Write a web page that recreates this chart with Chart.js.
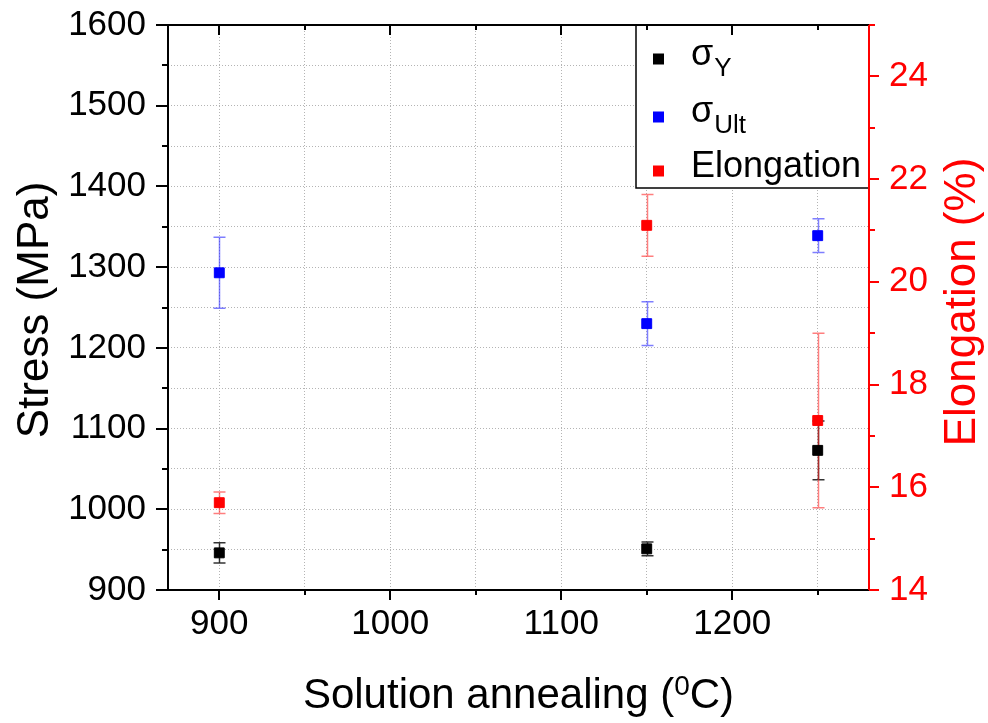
<!DOCTYPE html>
<html>
<head>
<meta charset="utf-8">
<script src="https://cdn.jsdelivr.net/npm/chart.js@4"></script>
<style>
  html, body { margin: 0; padding: 0; background: #fff; }
  #wrap { width: 988px; height: 723px; }
</style>
</head>
<body>
<div id="wrap"><canvas id="c" width="988" height="723"></canvas></div>
<script>
// Solution annealing temperature (°C)
const temperatures = [900, 1150, 1250];

// Yield strength (MPa) and its scatter
const yieldStress = [946, 951, 1073];
const yieldStressErr = [12.5, 8.5, 36.5];

// Ultimate tensile strength (MPa) and its scatter
const ultimateStress = [1293, 1230, 1339];
const ultimateStressErr = [44, 27, 21];

// Elongation at fracture (%) and its scatter
const elongation = [15.7, 21.1, 17.3];
const elongationErr = [0.21, 0.6, 1.7];

// Axis ticks: every entry gets a tick mark, labelled ones are listed separately
const tempTicks = [900, 950, 1000, 1050, 1100, 1150, 1200, 1250];
const tempLabels = [900, 1000, 1100, 1200];
const stressTicks = [900, 950, 1000, 1050, 1100, 1150, 1200, 1250, 1300, 1350, 1400, 1450, 1500, 1550, 1600];
const stressLabels = [900, 1000, 1100, 1200, 1300, 1400, 1500, 1600];
const elongTicks = [14, 15, 16, 17, 18, 19, 20, 21, 22, 23, 24, 25];
const elongLabels = [14, 16, 18, 20, 22, 24];

const FONT = '"Liberation Sans", Arial, Helvetica, sans-serif';
const RED = '#ff0000';
const BLUE = '#0000ff';
const BLACK = '#000000';
const GRID = '#b4b4b4';

const toPoints = (ys) => temperatures.map((t, i) => ({ x: t, y: ys[i] }));

// Error bars, axis frame with major/minor tick marks, titles and legend
const decorations = {
  id: 'decorations',
  beforeDatasetsDraw(chart) {
    const { ctx, chartArea: a } = chart;
    const xs = chart.scales.x;
    ctx.save();
    ctx.beginPath();
    ctx.rect(a.left, a.top, a.right - a.left, a.bottom - a.top);
    ctx.clip();
    chart.data.datasets.forEach((ds) => {
      const ys = chart.scales[ds.yAxisID];
      ctx.strokeStyle = ds.errorColor;
      ctx.lineWidth = 1.5;
      ds.data.forEach((p, i) => {
        const e = ds.errors[i];
        const x = Math.round(xs.getPixelForValue(p.x)) + 0.5;
        const yt = ys.getPixelForValue(p.y + e);
        const yb = ys.getPixelForValue(p.y - e);
        ctx.beginPath();
        ctx.moveTo(x, yt); ctx.lineTo(x, yb);
        ctx.moveTo(x - 6, yt); ctx.lineTo(x + 6, yt);
        ctx.moveTo(x - 6, yb); ctx.lineTo(x + 6, yb);
        ctx.stroke();
      });
    });
    ctx.restore();
  },
  afterDraw(chart) {
    const { ctx, chartArea: a } = chart;
    const xs = chart.scales.x, ys = chart.scales.y, es = chart.scales.y1;
    ctx.save();

    // legend box
    const lx0 = 636, ly0 = a.top, lx1 = a.right, ly1 = 188;
    ctx.fillStyle = '#fff';
    ctx.fillRect(lx0, ly0, lx1 - lx0, ly1 - ly0);
    ctx.strokeStyle = BLACK;
    ctx.lineWidth = 1.5;
    ctx.strokeRect(lx0, ly0, lx1 - lx0, ly1 - ly0);
    const entries = [
      { color: BLACK, main: 'σ', sub: 'Y', my: 59, base: 65, subBase: 76 },
      { color: BLUE, main: 'σ', sub: 'Ult', my: 117, base: 122, subBase: 133 },
      { color: RED, main: 'Elongation', sub: '', my: 171, base: 177, subBase: 0 }
    ];
    entries.forEach((en) => {
      ctx.fillStyle = en.color;
      ctx.fillRect(653, en.my - 5.5, 11, 11);
      ctx.fillStyle = BLACK;
      ctx.textAlign = 'left';
      ctx.textBaseline = 'alphabetic';
      ctx.font = '36px ' + FONT;
      ctx.fillText(en.main, 691, en.base);
      if (en.sub) {
        const w = ctx.measureText(en.main).width;
        ctx.font = '26px ' + FONT;
        ctx.fillText(en.sub, 691 + w + 1, en.subBase);
      }
    });

    // frame lines
    ctx.lineCap = 'square';
    ctx.lineWidth = 2;
    ctx.strokeStyle = BLACK;
    ctx.beginPath();
    ctx.moveTo(a.left, a.top); ctx.lineTo(a.right, a.top);
    ctx.moveTo(a.left, a.top); ctx.lineTo(a.left, a.bottom);
    ctx.moveTo(a.left, a.bottom); ctx.lineTo(a.right, a.bottom);
    ctx.stroke();

    // bottom (outward) and top (inward) tick marks
    ctx.lineCap = 'butt';
    ctx.beginPath();
    xs.ticks.forEach((t) => {
      const x = Math.round(xs.getPixelForValue(t.value));
      const len = tempLabels.includes(t.value) ? 10 : 5;
      ctx.moveTo(x, a.bottom); ctx.lineTo(x, a.bottom + len);
      ctx.moveTo(x, a.top); ctx.lineTo(x, a.top + len);
    });
    // left tick marks
    ys.ticks.forEach((t) => {
      const y = Math.round(ys.getPixelForValue(t.value));
      const len = stressLabels.includes(t.value) ? 12 : 6;
      ctx.moveTo(a.left - len, y); ctx.lineTo(a.left, y);
    });
    ctx.stroke();

    // right axis in red
    ctx.strokeStyle = RED;
    ctx.beginPath();
    ctx.moveTo(a.right, a.top); ctx.lineTo(a.right, a.bottom);
    es.ticks.forEach((t) => {
      const y = Math.round(es.getPixelForValue(t.value));
      const len = elongLabels.includes(t.value) ? 10 : 6;
      ctx.moveTo(a.right, y); ctx.lineTo(a.right + len, y);
    });
    ctx.stroke();

    // x axis title with superscript
    ctx.fillStyle = BLACK;
    ctx.textBaseline = 'alphabetic';
    ctx.textAlign = 'left';
    const bigFont = '42px ' + FONT, supFont = '28px ' + FONT;
    const parts = [
      { t: 'Solution annealing (', f: bigFont, dy: 0 },
      { t: '0', f: supFont, dy: -13 },
      { t: 'C)', f: bigFont, dy: 0 }
    ];
    let total = 0;
    parts.forEach((p) => { ctx.font = p.f; p.w = ctx.measureText(p.t).width; total += p.w; });
    let cx = (a.left + a.right) / 2 - total / 2;
    parts.forEach((p) => { ctx.font = p.f; ctx.fillText(p.t, cx, 708 + p.dy); cx += p.w; });

    // y axis titles
    ctx.textAlign = 'center';
    ctx.font = '44px ' + FONT;
    ctx.save();
    ctx.translate(48, 310);
    ctx.rotate(-Math.PI / 2);
    ctx.fillStyle = BLACK;
    ctx.fillText('Stress (MPa)', 0, 0);
    ctx.restore();

    ctx.save();
    ctx.translate(975, 302);
    ctx.rotate(-Math.PI / 2);
    ctx.fillStyle = RED;
    ctx.fillText('Elongation (%)', 0, 0);
    ctx.restore();

    ctx.restore();
  }
};

const tickFont = { family: FONT, size: 35 };
const noEdgePadding = (s) => { s.paddingTop = 0; s.paddingBottom = 0; s.paddingLeft = 0; s.paddingRight = 0; };

new Chart(document.getElementById('c'), {
  type: 'scatter',
  data: {
    datasets: [
      {
        label: 'σY', data: toPoints(yieldStress), errors: yieldStressErr,
        yAxisID: 'y', backgroundColor: BLACK, borderColor: BLACK,
        errorColor: 'rgba(0,0,0,0.8)'
      },
      {
        label: 'σUlt', data: toPoints(ultimateStress), errors: ultimateStressErr,
        yAxisID: 'y', backgroundColor: BLUE, borderColor: BLUE,
        errorColor: 'rgba(40,40,255,0.6)'
      },
      {
        label: 'Elongation', data: toPoints(elongation), errors: elongationErr,
        yAxisID: 'y1', backgroundColor: RED, borderColor: RED,
        errorColor: 'rgba(255,40,40,0.6)'
      }
    ]
  },
  options: {
    responsive: false,
    animation: false,
    devicePixelRatio: 1,
    layout: { padding: { top: 25, left: 0, right: 0, bottom: 0 } },
    plugins: { legend: { display: false }, tooltip: { enabled: false } },
    elements: { point: { pointStyle: 'rect', radius: 7, hoverRadius: 7, borderWidth: 1 } },
    scales: {
      x: {
        type: 'linear', position: 'bottom', min: 870, max: 1280,
        afterBuildTicks: (s) => { s.ticks = tempTicks.map((v) => ({ value: v })); },
        afterFit: (s) => { s.height = 133; noEdgePadding(s); },
        grid: { color: GRID, lineWidth: 1, drawTicks: false },
        border: { display: false, dash: [1, 2] },
        ticks: {
          autoSkip: false, maxRotation: 0, padding: 13, color: BLACK, font: tickFont,
          callback: (v) => (tempLabels.includes(v) ? String(v) : '')
        }
      },
      y: {
        type: 'linear', position: 'left', min: 900, max: 1600,
        afterBuildTicks: (s) => { s.ticks = stressTicks.map((v) => ({ value: v })); },
        afterFit: (s) => { s.width = 168; noEdgePadding(s); },
        grid: { color: GRID, lineWidth: 1, drawTicks: false },
        border: { display: false, dash: [1, 2] },
        ticks: {
          autoSkip: false, padding: 22, color: BLACK, font: tickFont,
          callback: (v) => (stressLabels.includes(v) ? String(v) : '')
        }
      },
      y1: {
        type: 'linear', position: 'right', min: 14, max: 25,
        afterBuildTicks: (s) => { s.ticks = elongTicks.map((v) => ({ value: v })); },
        afterFit: (s) => { s.width = 119; noEdgePadding(s); },
        grid: { display: false, drawOnChartArea: false, drawTicks: false },
        border: { display: false },
        ticks: {
          autoSkip: false, padding: 20, color: RED, font: tickFont,
          callback: (v) => (elongLabels.includes(v) ? String(v) : '')
        }
      }
    }
  },
  plugins: [decorations]
});
</script>
</body>
</html>
